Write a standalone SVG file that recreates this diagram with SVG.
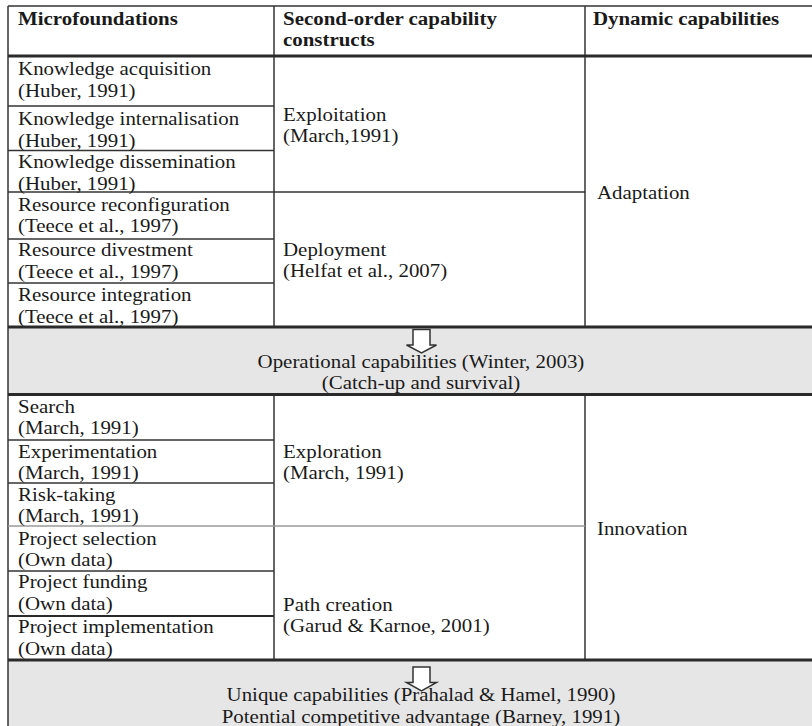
<svg xmlns="http://www.w3.org/2000/svg" width="812" height="726" viewBox="0 0 812 726">
<style>
text{font-family:"Liberation Serif","Times New Roman",serif;font-size:19px;fill:#1a1a1a;transform:scale(1.1,1);}
.b{font-weight:bold;}
.c{text-anchor:middle;}
.ln{stroke:#333;stroke-width:1.5;fill:none;}
.thk{stroke:#2a2a2a;stroke-width:3;fill:none;}
.lt{stroke:#9a9a9a;stroke-width:1.5;fill:none;}
.band{fill:#e6e6e6;}
.arr{fill:#fff;stroke:#333;stroke-width:1.5;}
</style>
<rect width="812" height="726" fill="#fff"/>
<g id="header">
<line class="ln" x1="8" y1="6" x2="812" y2="6"/>
<text class="b" x="16.4" y="25">Microfoundations</text>
<text class="b" x="257.3" y="25">Second-order capability</text>
<text class="b" x="257.3" y="46">constructs</text>
<text class="b" x="539" y="25">Dynamic capabilities</text>
</g>
<g id="band1">
<rect class="band" x="8" y="327" width="804" height="67"/>
<text class="c" x="382.7" y="368">Operational capabilities (Winter, 2003)</text>
<text class="c" x="382.7" y="389">(Catch-up and survival)</text>
</g>
<g id="band2">
<rect class="band" x="8" y="660" width="804" height="66"/>
<text class="c" x="382.7" y="701.5">Unique capabilities (Prahalad &amp; Hamel, 1990)</text>
<text class="c" x="382.7" y="723">Potential competitive advantage (Barney, 1991)</text>
</g>
<g id="grid">
<line class="ln" x1="8" y1="6" x2="8" y2="726"/>
<line class="ln" x1="274" y1="6" x2="274" y2="327"/>
<line class="ln" x1="585" y1="6" x2="585" y2="327"/>
<line class="ln" x1="274" y1="394" x2="274" y2="660"/>
<line class="ln" x1="585" y1="394" x2="585" y2="660"/>
<line class="thk" x1="8" y1="56" x2="812" y2="56"/>
<line class="ln" x1="8" y1="106" x2="274" y2="106"/>
<line class="ln" x1="8" y1="150.5" x2="274" y2="150.5"/>
<line class="ln" x1="8" y1="192" x2="585" y2="192"/>
<line class="ln" x1="8" y1="239" x2="274" y2="239"/>
<line class="ln" x1="8" y1="283" x2="274" y2="283"/>
<line class="thk" x1="8" y1="327" x2="812" y2="327"/>
<line class="thk" x1="8" y1="394.5" x2="812" y2="394.5"/>
<line class="ln" x1="8" y1="440" x2="274" y2="440"/>
<line class="ln" x1="8" y1="483" x2="274" y2="483"/>
<line class="lt" x1="8" y1="526" x2="585" y2="526"/>
<line class="ln" x1="8" y1="571" x2="274" y2="571"/>
<line class="thk" x1="8" y1="616" x2="274" y2="616" style="stroke-width:2.2"/>
<line class="thk" x1="8" y1="660" x2="812" y2="660"/>
</g>
<g id="knowledge-acquisition"><text x="16.4" y="75">Knowledge acquisition</text><text x="16.4" y="96.7">(Huber, 1991)</text></g>
<g id="knowledge-internalisation"><text x="16.4" y="125">Knowledge internalisation</text><text x="16.4" y="146.7">(Huber, 1991)</text></g>
<g id="knowledge-dissemination"><text x="16.4" y="168.3">Knowledge dissemination</text><text x="16.4" y="190">(Huber, 1991)</text></g>
<g id="resource-reconfiguration"><text x="16.4" y="210.7">Resource reconfiguration</text><text x="16.4" y="232.3">(Teece et al., 1997)</text></g>
<g id="resource-divestment"><text x="16.4" y="256">Resource divestment</text><text x="16.4" y="278.3">(Teece et al., 1997)</text></g>
<g id="resource-integration"><text x="16.4" y="300.7">Resource integration</text><text x="16.4" y="322.7">(Teece et al., 1997)</text></g>
<g id="exploitation"><text x="257.3" y="120.7">Exploitation</text><text x="257.3" y="141.7">(March,1991)</text></g>
<g id="deployment"><text x="257.3" y="256">Deployment</text><text x="257.3" y="277">(Helfat et al., 2007)</text></g>
<g id="adaptation"><text x="542.7" y="199">Adaptation</text></g>
<g id="search"><text x="16.4" y="413.3">Search</text><text x="16.4" y="434.3">(March, 1991)</text></g>
<g id="experimentation"><text x="16.4" y="458.3">Experimentation</text><text x="16.4" y="479.3">(March, 1991)</text></g>
<g id="risk-taking"><text x="16.4" y="500.7">Risk-taking</text><text x="16.4" y="521.7">(March, 1991)</text></g>
<g id="project-selection"><text x="16.4" y="545">Project selection</text><text x="16.4" y="566">(Own data)</text></g>
<g id="project-funding"><text x="16.4" y="588.3">Project funding</text><text x="16.4" y="610">(Own data)</text></g>
<g id="project-implementation"><text x="16.4" y="633.3">Project implementation</text><text x="16.4" y="655">(Own data)</text></g>
<g id="exploration"><text x="257.3" y="458">Exploration</text><text x="257.3" y="479">(March, 1991)</text></g>
<g id="path-creation"><text x="257.3" y="611">Path creation</text><text x="257.3" y="632">(Garud &amp; Karnoe, 2001)</text></g>
<g id="innovation"><text x="542.7" y="535">Innovation</text></g>
<g id="connectors">
<path class="arr" d="M413,329.5 H430 V345 H436.5 L421.5,353 L406.5,345 H413 Z"/>
<path class="arr" d="M413,667 H430 V682.5 H436.5 L421.5,691 L406.5,682.5 H413 Z"/>
</g>
</svg>
